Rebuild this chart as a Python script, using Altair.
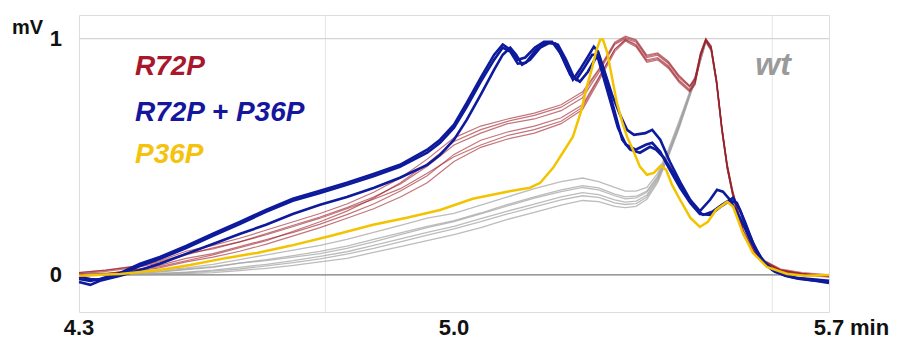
import altair as alt
import pandas as pd

# ---------------- data ----------------
x_grid = [4.30, 4.35, 4.40, 4.45, 4.50, 4.55, 4.60, 4.65, 4.70, 4.75, 4.80, 4.85, 4.90, 4.95,
          5.00, 5.05, 5.10, 5.15, 5.20, 5.24, 5.27, 5.30, 5.32, 5.34, 5.36, 5.38, 5.40, 5.42,
          5.44, 5.45, 5.46, 5.47, 5.48, 5.49, 5.50, 5.51, 5.52, 5.54, 5.56, 5.58, 5.61, 5.65, 5.70]

red_1 = [0.01, 0.02, 0.035, 0.06, 0.10, 0.125, 0.155, 0.19, 0.225, 0.26, 0.30, 0.35, 0.41, 0.49, 0.58,
         0.63, 0.66, 0.685, 0.72, 0.775, 0.87, 0.985, 1.01, 0.995, 0.93, 0.94, 0.905, 0.845, 0.80, 0.835,
         0.94, 1.0, 0.97, 0.83, 0.63, 0.47, 0.36, 0.19, 0.11, 0.06, 0.025, 0.01, 0.0]
red_2 = [-0.005, 0.0, 0.015, 0.03, 0.055, 0.075, 0.10, 0.13, 0.165, 0.20, 0.24, 0.28, 0.33, 0.39, 0.48,
         0.54, 0.575, 0.60, 0.64, 0.70, 0.82, 0.945, 0.99, 0.965, 0.90, 0.91, 0.875, 0.815, 0.775, 0.805,
         0.92, 0.99, 0.95, 0.81, 0.61, 0.45, 0.34, 0.17, 0.09, 0.05, 0.015, 0.0, -0.01]
red_3 = [0.005, 0.015, 0.03, 0.05, 0.085, 0.115, 0.14, 0.175, 0.21, 0.245, 0.285, 0.33, 0.385, 0.46, 0.55,
         0.60, 0.64, 0.66, 0.695, 0.75, 0.855, 0.975, 1.0, 0.985, 0.92, 0.93, 0.895, 0.835, 0.795, 0.825,
         0.935, 0.995, 0.965, 0.825, 0.625, 0.465, 0.355, 0.185, 0.10, 0.055, 0.02, 0.005, -0.005]
red_4 = [0.0, 0.005, 0.02, 0.04, 0.07, 0.09, 0.12, 0.15, 0.18, 0.215, 0.255, 0.30, 0.355, 0.42, 0.51,
         0.57, 0.605, 0.63, 0.665, 0.72, 0.835, 0.955, 0.995, 0.975, 0.91, 0.92, 0.885, 0.825, 0.785, 0.815,
         0.925, 0.995, 0.96, 0.82, 0.62, 0.455, 0.345, 0.175, 0.10, 0.055, 0.02, 0.005, -0.005]
red_5 = [0.0, 0.005, 0.02, 0.035, 0.06, 0.085, 0.115, 0.145, 0.185, 0.225, 0.27, 0.325, 0.39, 0.47, 0.565,
         0.615, 0.65, 0.675, 0.71, 0.765, 0.865, 0.98, 1.005, 0.99, 0.925, 0.935, 0.90, 0.84, 0.80, 0.83,
         0.935, 1.0, 0.965, 0.825, 0.625, 0.465, 0.35, 0.18, 0.105, 0.06, 0.02, 0.005, -0.005]
red_6 = [0.01, 0.02, 0.035, 0.055, 0.09, 0.11, 0.14, 0.17, 0.205, 0.24, 0.28, 0.32, 0.365, 0.43, 0.50,
         0.55, 0.59, 0.615, 0.65, 0.71, 0.83, 0.955, 0.995, 0.97, 0.905, 0.915, 0.88, 0.82, 0.78, 0.81,
         0.925, 0.99, 0.955, 0.815, 0.615, 0.455, 0.345, 0.175, 0.095, 0.05, 0.02, 0.005, -0.005]

gray_1 = [0.005, 0.008, 0.012, 0.02, 0.03, 0.045, 0.065, 0.085, 0.105, 0.125, 0.15, 0.18, 0.21, 0.24, 0.26,
          0.295, 0.33, 0.365, 0.395, 0.41, 0.395, 0.37, 0.355, 0.355, 0.37, 0.43, 0.53, 0.65, 0.775, 0.84,
          0.915, 0.995, 0.96, 0.82, 0.62, 0.46, 0.35, 0.18, 0.10, 0.055, 0.02, 0.005, -0.005]
gray_2 = [-0.003, -0.002, 0.0, 0.002, 0.006, 0.01, 0.018, 0.028, 0.04, 0.055, 0.07, 0.095, 0.12, 0.145, 0.17,
          0.2, 0.235, 0.265, 0.295, 0.315, 0.31, 0.29, 0.285, 0.29, 0.32, 0.39, 0.5, 0.62, 0.755, 0.82,
          0.905, 0.985, 0.95, 0.81, 0.61, 0.45, 0.34, 0.17, 0.09, 0.045, 0.015, 0.003, -0.007]
gray_3 = [0.0, 0.002, 0.006, 0.012, 0.022, 0.032, 0.05, 0.065, 0.082, 0.1, 0.122, 0.15, 0.178, 0.205, 0.23,
          0.262, 0.298, 0.33, 0.36, 0.378, 0.368, 0.342, 0.33, 0.333, 0.355, 0.418, 0.52, 0.64, 0.77, 0.835,
          0.912, 0.992, 0.958, 0.818, 0.618, 0.458, 0.348, 0.178, 0.098, 0.052, 0.018, 0.004, -0.006]
gray_4 = [0.0, 0.0, 0.003, 0.006, 0.012, 0.02, 0.032, 0.045, 0.06, 0.078, 0.098, 0.125, 0.152, 0.18, 0.205,
          0.238, 0.27, 0.3, 0.33, 0.348, 0.34, 0.318, 0.308, 0.312, 0.338, 0.405, 0.51, 0.63, 0.762, 0.828,
          0.908, 0.988, 0.952, 0.812, 0.612, 0.452, 0.342, 0.172, 0.092, 0.048, 0.016, 0.004, -0.006]
gray_5 = [0.002, 0.004, 0.008, 0.015, 0.025, 0.035, 0.05, 0.06, 0.075, 0.09, 0.112, 0.14, 0.17, 0.2, 0.225,
          0.258, 0.292, 0.325, 0.352, 0.37, 0.36, 0.335, 0.322, 0.326, 0.35, 0.412, 0.515, 0.635, 0.765, 0.83,
          0.91, 0.99, 0.955, 0.815, 0.615, 0.455, 0.345, 0.175, 0.095, 0.05, 0.017, 0.004, -0.006]
gray_6 = [-0.002, 0.0, 0.002, 0.005, 0.01, 0.016, 0.025, 0.038, 0.052, 0.068, 0.088, 0.112, 0.14, 0.168, 0.195,
          0.225, 0.258, 0.288, 0.318, 0.335, 0.328, 0.305, 0.298, 0.302, 0.33, 0.398, 0.505, 0.625, 0.758, 0.825,
          0.905, 0.985, 0.95, 0.81, 0.61, 0.45, 0.34, 0.172, 0.092, 0.048, 0.016, 0.004, -0.006]

blue_a_x = [4.300, 4.321, 4.339, 4.377, 4.414, 4.451, 4.500, 4.550, 4.601, 4.649,
            4.699, 4.750, 4.800, 4.851, 4.899, 4.950, 4.974, 5.000, 5.024, 5.050,
            5.075, 5.091, 5.105, 5.119, 5.133, 5.151, 5.168, 5.183, 5.198, 5.211,
            5.222, 5.235, 5.250, 5.261, 5.269, 5.280, 5.295, 5.310, 5.323, 5.336,
            5.357, 5.370, 5.385, 5.403, 5.422, 5.441, 5.459, 5.478, 5.491, 5.502,
            5.515, 5.534, 5.553, 5.571, 5.590, 5.609, 5.637, 5.665, 5.700]
blue_a_y = [-0.017, -0.025, -0.017, 0.008, 0.047, 0.076, 0.123, 0.174, 0.225, 0.275,
            0.322, 0.356, 0.39, 0.428, 0.466, 0.53, 0.572, 0.636, 0.729, 0.835,
            0.932, 0.975, 0.953, 0.911, 0.92, 0.962, 0.987, 0.987, 0.94, 0.877,
            0.826, 0.869, 0.924, 0.966, 0.945, 0.869, 0.763, 0.678, 0.614, 0.593,
            0.60, 0.614, 0.572, 0.479, 0.394, 0.318, 0.27, 0.318, 0.36, 0.352,
            0.318, 0.242, 0.148, 0.072, 0.03, 0.008, -0.013, -0.017, -0.025]

blue_b_x = [4.300, 4.321, 4.339, 4.377, 4.414, 4.451, 4.500, 4.550, 4.601, 4.649,
            4.699, 4.750, 4.800, 4.851, 4.899, 4.950, 4.974, 5.000, 5.024, 5.050,
            5.075, 5.091, 5.105, 5.116, 5.127, 5.142, 5.161, 5.179, 5.194, 5.209,
            5.224, 5.235, 5.250, 5.265, 5.273, 5.284, 5.299, 5.314, 5.329, 5.347,
            5.366, 5.377, 5.392, 5.411, 5.429, 5.448, 5.465, 5.482, 5.500, 5.521,
            5.534, 5.549, 5.564, 5.581, 5.599, 5.627, 5.665, 5.700]
blue_b_y = [-0.03, -0.042, -0.025, -0.004, 0.021, 0.047, 0.089, 0.131, 0.174, 0.212,
            0.258, 0.297, 0.33, 0.369, 0.411, 0.466, 0.508, 0.572, 0.657, 0.763,
            0.869, 0.932, 0.962, 0.932, 0.89, 0.911, 0.962, 0.983, 0.975, 0.911,
            0.835, 0.818, 0.86, 0.92, 0.911, 0.826, 0.699, 0.572, 0.53, 0.517,
            0.542, 0.53, 0.496, 0.424, 0.352, 0.288, 0.254, 0.267, 0.297, 0.326,
            0.275, 0.182, 0.106, 0.047, 0.013, -0.008, -0.021, -0.03]

blue_c_x = [4.300, 4.321, 4.339, 4.377, 4.414, 4.451, 4.500, 4.550, 4.601, 4.649,
            4.699, 4.750, 4.800, 4.851, 4.899, 4.950, 4.974, 5.000, 5.024, 5.050,
            5.075, 5.091, 5.105, 5.119, 5.134, 5.153, 5.172, 5.189, 5.202, 5.217,
            5.228, 5.243, 5.258, 5.267, 5.276, 5.291, 5.306, 5.321, 5.339, 5.358,
            5.370, 5.385, 5.403, 5.422, 5.441, 5.459, 5.478, 5.497, 5.515, 5.528,
            5.543, 5.558, 5.575, 5.594, 5.618, 5.646, 5.674, 5.700]
blue_c_y = [-0.008, -0.017, -0.021, 0.0, 0.038, 0.068, 0.114, 0.165, 0.216, 0.267,
            0.314, 0.347, 0.381, 0.419, 0.458, 0.517, 0.559, 0.623, 0.712, 0.818,
            0.911, 0.962, 0.945, 0.894, 0.898, 0.953, 0.983, 0.979, 0.924, 0.847,
            0.826, 0.877, 0.932, 0.932, 0.86, 0.742, 0.623, 0.551, 0.53, 0.551,
            0.559, 0.521, 0.445, 0.369, 0.305, 0.258, 0.254, 0.288, 0.314, 0.305,
            0.225, 0.136, 0.064, 0.021, -0.004, -0.017, -0.025, -0.034]

yellow_x = [4.300, 4.326, 4.377, 4.451, 4.507, 4.576, 4.632, 4.694, 4.769, 4.849,
            4.912, 4.974, 5.035, 5.099, 5.142, 5.161, 5.185, 5.203, 5.222, 5.237,
            5.248, 5.258, 5.265, 5.273, 5.278, 5.286, 5.295, 5.304, 5.314, 5.323,
            5.334, 5.347, 5.360, 5.373, 5.386, 5.396, 5.407, 5.422, 5.441, 5.459,
            5.474, 5.489, 5.510, 5.521, 5.539, 5.558, 5.584, 5.622, 5.655, 5.700]
yellow_y = [-0.004, 0.0, 0.004, 0.021, 0.042, 0.072, 0.093, 0.123, 0.165, 0.212,
            0.242, 0.275, 0.322, 0.352, 0.369, 0.39, 0.453, 0.517, 0.585, 0.691,
            0.797, 0.877, 0.945, 0.996, 0.996, 0.941, 0.835, 0.729, 0.648, 0.585,
            0.53, 0.458, 0.424, 0.432, 0.462, 0.445, 0.381, 0.318, 0.242, 0.203,
            0.225, 0.275, 0.309, 0.288, 0.178, 0.093, 0.034, 0.004, -0.004, 0.0]

legend_labels = ["R72P", "R72P + P36P", "P36P"]
legend_colors = ["#a8172b", "#14179c", "#f5c20d"]
wt_label = "wt"
x_label_values = [4.3, 5.0, 5.7]
x_label_text = ["4.3", "5.0", "5.7"]
x_unit = "min"
y_label_values = [0, 1]
y_label_text = ["0", "1"]
y_unit = "mV"
grid_x = [4.76, 5.594]
grid_y = [1.0]
zero_y = [0.0]

# ---------------- frames ----------------
def traces_df(traces):
    rows = []
    for name, ys in traces.items():
        for x, y in zip(x_grid, ys):
            rows.append({"x": x, "y": y, "trace": name})
    return pd.DataFrame(rows)

red_df = traces_df({"r1": red_1, "r2": red_2, "r3": red_3, "r4": red_4, "r5": red_5, "r6": red_6})
gray_df = traces_df({"g1": gray_1, "g2": gray_2, "g3": gray_3, "g4": gray_4, "g5": gray_5, "g6": gray_6})

blue_rows = []
for name, xs_, ys_ in [("a", blue_a_x, blue_a_y), ("b", blue_b_x, blue_b_y), ("c", blue_c_x, blue_c_y)]:
    for x, y in zip(xs_, ys_):
        blue_rows.append({"x": x, "y": y, "trace": name})
blue_df = pd.DataFrame(blue_rows)
yellow_df = pd.DataFrame({"x": yellow_x, "y": yellow_y})

xs = alt.Scale(domain=[4.3, 5.7], nice=False, zero=False)
ys = alt.Scale(domain=[-0.157, 1.1], nice=False, zero=False)

x_ticks = [round(4.3 + 0.1 * i, 1) for i in range(15)]
y_ticks = [round(-0.1 + 0.1 * i, 1) for i in range(12)]

X = alt.X("x:Q", scale=xs, axis=None)
Y = alt.Y("y:Q", scale=ys, axis=None)

axes_layer = alt.Chart(pd.DataFrame({"x": [4.3], "y": [0.0]})).mark_point(opacity=0).encode(
    x=alt.X("x:Q", scale=xs, axis=alt.Axis(values=x_ticks, labels=False, title=None, grid=False,
                                            domainColor="#c8c8c8", tickColor="#c8c8c8", tickSize=5)),
    y=alt.Y("y:Q", scale=ys, axis=alt.Axis(values=y_ticks, labels=False, title=None, grid=False,
                                            domainColor="#c8c8c8", tickColor="#c8c8c8", tickSize=5)),
)

vgrid = alt.Chart(pd.DataFrame({"x": grid_x})).mark_rule(color="#e4e4e4", strokeWidth=1).encode(x=X)
hgrid = alt.Chart(pd.DataFrame({"y": grid_y})).mark_rule(color="#d4d4d4", strokeWidth=1.2).encode(y=Y)
zero = alt.Chart(pd.DataFrame({"y": zero_y})).mark_rule(color="#7a7a7a", strokeWidth=1.3).encode(y=Y)

gray = alt.Chart(gray_df).mark_line(color="#a0a0a0", strokeWidth=1.3, opacity=0.7).encode(
    x=X, y=Y, detail="trace:N", order="x:Q")
red = alt.Chart(red_df).mark_line(color="#9e1f28", strokeWidth=1.2, opacity=0.62).encode(
    x=X, y=Y, detail="trace:N", order="x:Q")
blue = alt.Chart(blue_df).mark_line(color="#0d1a9c", strokeWidth=2.6).encode(
    x=X, y=Y, detail="trace:N", order="x:Q")
yellow = alt.Chart(yellow_df).mark_line(color="#f3c300", strokeWidth=2.5).encode(
    x=X, y=Y, order="x:Q")

sans = "Liberation Sans, Arial, sans-serif"

xlab = alt.Chart(pd.DataFrame({"x": x_label_values, "t": x_label_text})).mark_text(
    font=sans, fontSize=22, fontWeight="bold", color="#111111", baseline="middle", align="center"
).encode(x=X, y=alt.value(313), text="t:N")
xunit = alt.Chart(pd.DataFrame({"x": [5.7]})).mark_text(
    font=sans, fontSize=22, fontWeight="bold", color="#111111", baseline="middle", align="left"
).encode(x=alt.value(771), y=alt.value(313), text=alt.value(x_unit))
ylab = alt.Chart(pd.DataFrame({"y": y_label_values, "t": y_label_text})).mark_text(
    font=sans, fontSize=22, fontWeight="bold", color="#111111", baseline="middle", align="right"
).encode(x=alt.value(-17), y=Y, text="t:N")
yunit = alt.Chart(pd.DataFrame({"y": [1.0]})).mark_text(
    font=sans, fontSize=20, fontWeight="bold", color="#111111", baseline="middle", align="left"
).encode(x=alt.value(-67), y=alt.value(13), text=alt.value(y_unit))

legend_layers = []
legend_y_px = [52, 98, 140]
for lab, col, yp in zip(legend_labels, legend_colors, legend_y_px):
    legend_layers.append(alt.Chart(pd.DataFrame({"t": [lab]})).mark_text(
        font=sans, fontSize=28, fontWeight="bold", fontStyle="italic", color=col,
        align="left", baseline="middle").encode(x=alt.value(56), y=alt.value(yp), text="t:N"))

wt_text = alt.Chart(pd.DataFrame({"t": [wt_label]})).mark_text(
    font=sans, fontSize=32, fontWeight="bold", fontStyle="italic",
    color="#9a9a9a", align="center", baseline="middle").encode(
    x=alt.value(694), y=alt.value(50), text="t:N")

chart = alt.layer(
    axes_layer, vgrid, hgrid, zero, gray, red, blue, yellow,
    xlab, xunit, ylab, yunit, *legend_layers, wt_text
).properties(
    width=750, height=297,
    autosize=alt.AutoSizeParams(type="none"),
    padding={"left": 79, "top": 15, "right": 68, "bottom": 32},
).configure_view(stroke=None).configure(background="white")

chart.save("out.html", embed_options={"renderer": "svg", "actions": False})
